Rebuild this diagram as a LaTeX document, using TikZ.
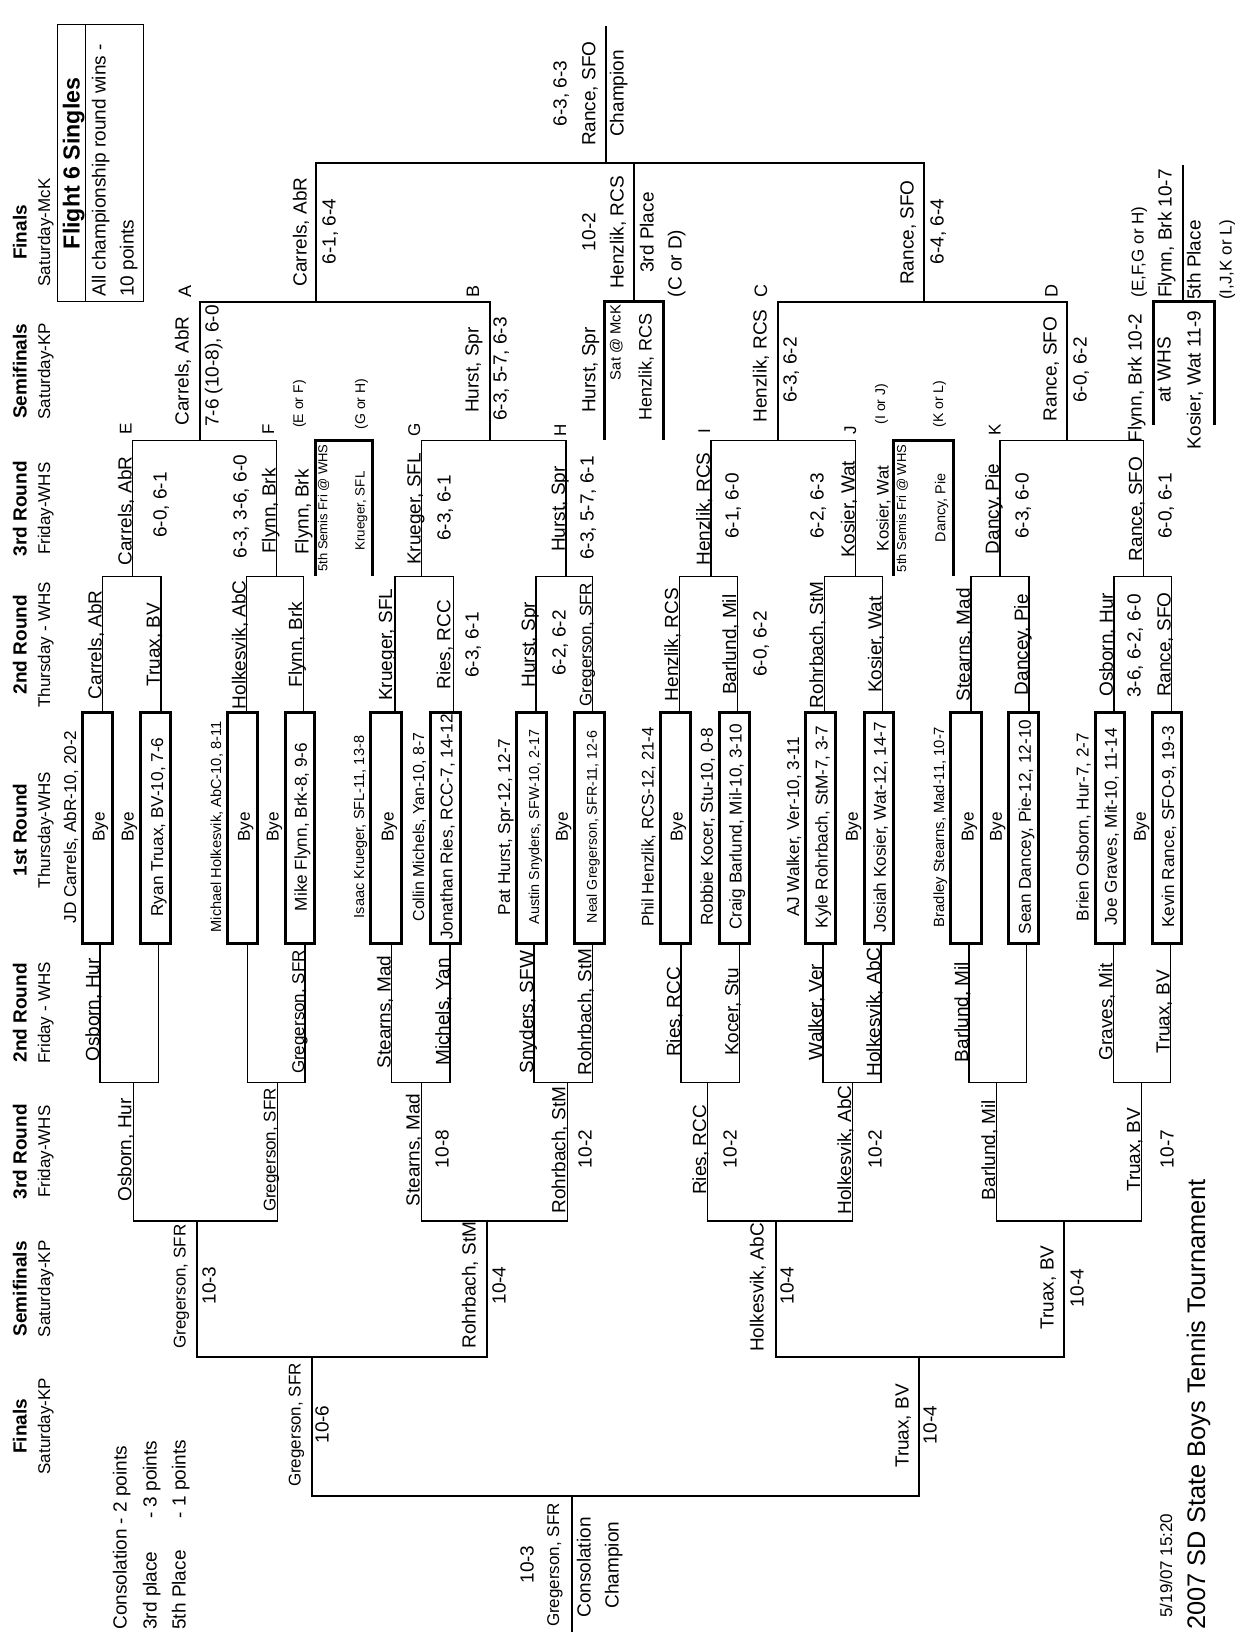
\documentclass[tikz,border=0pt]{standalone}
\usepackage{fontspec}
\setmainfont{Liberation Sans}
\newcommand\fz[1]{\fontsize{#1pt}{#1pt}\selectfont}
\newcounter{tn}
\tikzset{
  ln/.style={line width=0.7pt},
  lnm/.style={line width=1.1pt},
  bx/.style={line width=1.5pt},
  rt/.style={rotate=90, anchor=base, inner sep=0pt, font=\fz{9.5}},
  hb/.style={font=\fz{9.5}\bfseries},
  hs/.style={font=\fz{8.5}},
  f1/.style={font=\fz{8.6}},
  st/.style={anchor=base west},
}
\newcommand\tx[4][]{\stepcounter{tn}\node[rt,#1] (t\thetn) at (#2,#3) {#4};}
\begin{document}
\begin{tikzpicture}[x=0.5pt,y=-0.5pt]
\fill[white] (0,0) rectangle (1241,1632);
\useasboundingbox (0,0) rectangle (1241,1632);

% ---------- headers ----------
\tx[hb]{26.6}{232.5}{Finals}      \tx[hs]{50.2}{232.5}{Saturday-McK}
\tx[hb]{26.6}{371.2}{Semifinals}  \tx[hs]{50.2}{371.2}{Saturday-KP}
\tx[hb]{26.6}{508.7}{3rd Round}   \tx[hs]{50.2}{508.7}{Friday-WHS}
\tx[hb]{26.6}{644.7}{2nd Round}   \tx[hs]{50.2}{644.7}{Thursday - WHS}
\tx[hb]{26.6}{830}{1st Round}     \tx[hs]{50.2}{830}{Thursday-WHS}
\tx[hb]{26.6}{1012.8}{2nd Round}  \tx[hs]{50.2}{1012.8}{Friday - WHS}
\tx[hb]{26.6}{1151.7}{3rd Round}  \tx[hs]{50.2}{1151.7}{Friday-WHS}
\tx[hb]{26.6}{1288.8}{Semifinals} \tx[hs]{50.2}{1288.8}{Saturday-KP}
\tx[hb]{26.6}{1426.2}{Finals}     \tx[hs]{50.2}{1426.2}{Saturday-KP}

% ---------- title box ----------
\draw[line width=0.5pt] (57.3,25) rectangle (143.3,301.7);
\draw[line width=0.5pt] (85.7,25) -- (85.7,301.7);
\tx[font=\fz{11.6}\bfseries]{79.6}{163.4}{Flight 6 Singles}
\tx[st]{105.7}{297}{All championship round wins -}
\tx[st]{133.7}{297}{10 points}

% ---------- first round boxes ----------
\foreach \l/\r in {82.7/112,140/170.7,227.7/257.3,285/314.3,370.7/401,430.7/460,516.7/546.7,574.3/604.3,660/690,719.3/749,805.7/835,864.3/893.3,950.7/981,1008.3/1038.3,1095/1124.3,1152.3/1181.7}
  \draw[bx] (\l,712.7) rectangle (\r,943.3);

\tx[f1]{76.2}{827}{JD Carrels, AbR-10, 20-2}
\tx[f1]{104.5}{827}{Bye}
\tx[f1]{133.5}{827}{Bye}
\tx[f1]{163.2}{827}{Ryan Truax, BV-10, 7-6}
\tx[font=\fz{7.3}]{221.2}{827}{Michael Holkesvik, AbC-10, 8-11}
\tx[f1]{249.8}{827}{Bye}
\tx[f1]{278.5}{827}{Bye}
\tx[f1]{306.8}{827}{Mike Flynn, Brk-8, 9-6}
\tx[font=\fz{7.3}]{364.2}{827}{Isaac Krueger, SFL-11, 13-8}
\tx[f1]{393.5}{827}{Bye}
\tx[font=\fz{7.95}]{424.2}{827}{Collin Michels, Yan-10, 8-7}
\tx[f1]{452.5}{827}{Jonathan Ries, RCC-7, 14-12}
\tx[f1]{510.2}{827}{Pat Hurst, Spr-12, 12-7}
\tx[font=\fz{7.2}]{539.2}{827}{Austin Snyders, SFW-10, 2-17}
\tx[f1]{567.8}{827}{Bye}
\tx[font=\fz{7.1}]{596.8}{827}{Neal Gregerson, SFR-11, 12-6}
\tx[font=\fz{8.4}]{653.5}{827}{Phil Henzlik, RCS-12, 21-4}
\tx[f1]{682.5}{827}{Bye}
\tx[f1]{712.8}{827}{Robbie Kocer, Stu-10, 0-8}
\tx[f1]{741.5}{827}{Craig Barlund, Mil-10, 3-10}
\tx[f1]{799.2}{827}{AJ Walker, Ver-10, 3-11}
\tx[f1]{827.5}{827}{Kyle Rohrbach, StM-7, 3-7}
\tx[f1]{857.8}{827}{Bye}
\tx[f1]{885.8}{827}{Josiah Kosier, Wat-12, 14-7}
\tx[font=\fz{7.4}]{944.2}{827}{Bradley Stearns, Mad-11, 10-7}
\tx[f1]{973.5}{827}{Bye}
\tx[f1]{1001.8}{827}{Bye}
\tx[f1]{1030.8}{827}{Sean Dancey, Pie-12, 12-10}
\tx[f1]{1088.5}{827}{Brien Osborn, Hur-7, 2-7}
\tx[f1]{1116.8}{827}{Joe Graves, Mit-10, 11-14}
\tx[f1]{1145.8}{827}{Bye}
\tx[f1]{1174.2}{827}{Kevin Rance, SFO-9, 19-3}

% ---------- championship 2nd round ----------
\foreach \a/\b in {102.7/161,246.7/303.3,395/453.3,536/592.7,679.3/737.3,824.3/882.7,971/1029,1114/1171.7}
  \draw[ln] (\a,712.7) -- (\a,576.7) -- (\b,576.7) -- (\b,712.7);
\tx{101.5}{644.7}{Carrels, AbR}
\tx{159.8}{644.7}{Truax, BV}
\tx{245.5}{644.7}{Holkesvik, AbC}
\tx{302.1}{644.7}{Flynn, Brk}
\tx{392}{644.7}{Krueger, SFL}
\tx{450.3}{644.7}{Ries, RCC}
\tx{534.8}{644.7}{Hurst, Spr}
\tx[font=\fz{8.5}]{591.5}{644.7}{Gregerson, SFR}
\tx{678.1}{644.7}{Henzlik, RCS}
\tx{736.1}{644.7}{Barlund, Mil}
\tx{823.1}{644.7}{Rohrbach, StM}
\tx{881.5}{644.7}{Kosier, Wat}
\tx{969.8}{644.7}{Stearns, Mad}
\tx{1027.8}{644.7}{Dancey, Pie}
\tx{1112.8}{644.7}{Osborn, Hur}
\tx{1170.5}{644.7}{Rance, SFO}
\tx{478.7}{645}{6-3, 6-1}
\tx{565.7}{643}{6-2, 6-2}
\tx{766.7}{644}{6-0, 6-2}
\tx{1140.7}{646}{3-6, 6-2, 6-0}

% ---------- championship 3rd round ----------
\foreach \a/\b in {132.7/276.7,421.7/566,711/855.7,1000/1143.3}
  \draw[ln] (\a,576.7) -- (\a,440.7) -- (\b,440.7) -- (\b,576.7);
\tx{131.5}{511}{Carrels, AbR}
\tx{275.5}{511}{Flynn, Brk}
\tx{420.5}{509}{Krueger, SFL}
\tx{564.8}{509}{Hurst, Spr}
\tx{709.8}{509}{Henzlik, RCS}
\tx{854.5}{509}{Kosier, Wat}
\tx{998.8}{509}{Dancy, Pie}
\tx{1142.1}{509}{Rance, SFO}
\tx{166.7}{505}{6-0, 6-1}
\tx{246.7}{506.7}{6-3, 3-6, 6-0}
\tx{450.7}{508}{6-3, 6-1}
\tx{593.7}{508}{6-3, 5-7, 6-1}
\tx{738.7}{506}{6-1, 6-0}
\tx{823.7}{506}{6-2, 6-3}
\tx{1028.7}{506}{6-3, 6-0}
\tx{1171.7}{506}{6-0, 6-1}
\tx[font=\fz{8.5}]{131.7}{429}{E}
\tx[font=\fz{8.5}]{274}{429}{F}
\tx[font=\fz{8.5}]{420}{430}{G}
\tx[font=\fz{8.5}]{566}{430}{H}
\tx[font=\fz{8.5}]{710}{431}{I}
\tx[font=\fz{8.5}]{856}{430}{J}
\tx[font=\fz{8.5}]{1000.7}{430}{K}

% ---------- 5th place semis boxes ----------
\draw[bx] (315,575.7) -- (315,440.7) -- (372.3,440.7) -- (372.3,575.7);
\draw[bx] (893.3,575.7) -- (893.3,440.7) -- (953.3,440.7) -- (953.3,575.7);
\tx[font=\fz{7}]{303}{404}{(E or F)}
\tx[font=\fz{7}]{365}{404}{(G or H)}
\tx{308.6}{512}{Flynn, Brk}
\tx[font=\fz{6.5}]{327.3}{508}{5th Semis Fri @ WHS}
\tx[font=\fz{6.7}]{364.6}{511}{Krueger, SFL}
\tx[font=\fz{7}]{885}{404}{(I or J)}
\tx[font=\fz{7}]{943}{404}{(K or L)}
\tx[font=\fz{8.4}]{888.7}{508.5}{Kosier, Wat}
\tx[font=\fz{6.5}]{906}{508.5}{5th Semis Fri @ WHS}
\tx[font=\fz{7.2}]{945.3}{508}{Dancy, Pie}

% ---------- championship semis ----------
\draw[lnm] (200,440.7) -- (200,301.7) -- (490,301.7) -- (490,440.7);
\draw[lnm] (778.3,440.7) -- (778.3,301.7) -- (1067.3,301.7) -- (1067.3,440.7);
\tx{188.7}{371}{Carrels, AbR}
\tx{218.7}{366}{7-6 (10-8), 6-0}
\tx{478.7}{370}{Hurst, Spr}
\tx{506.7}{369}{6-3, 5-7, 6-3}
\tx{766.7}{366}{Henzlik, RCS}
\tx{796.7}{370}{6-3, 6-2}
\tx{1056.7}{369}{Rance, SFO}
\tx{1086.7}{370}{6-0, 6-2}
\tx[font=\fz{9}]{191}{291}{A}
\tx[font=\fz{9}]{479}{291}{B}
\tx[font=\fz{9}]{767}{291}{C}
\tx[font=\fz{9}]{1057.5}{291}{D}

% ---------- championship finals ----------
\draw[lnm] (316,301.7) -- (316,163.3) -- (924.3,163.3) -- (924.3,301.7);
\draw[lnm] (605.7,163.3) -- (605.7,25.7);
\tx{306.7}{232}{Carrels, AbR}
\tx{335.7}{231.5}{6-1, 6-4}
\tx{913.7}{232.5}{Rance, SFO}
\tx{943.7}{231.5}{6-4, 6-4}
\tx{566.7}{93.5}{6-3, 6-3}
\tx{595.4}{93.7}{Rance, SFO}
\tx{623.7}{93.5}{Champion}

% ---------- 3rd place ----------
\draw[lnm] (634,163.3) -- (634,301.7);
\draw[bx] (604.3,440) -- (604.3,301.7) -- (663.3,301.7) -- (663.3,440);
\tx{595.4}{232}{10-2}
\tx{623.7}{232.5}{Henzlik, RCS}
\tx{653.7}{232.5}{3rd Place}
\tx{681.7}{263.5}{(C or D)}
\tx{595.4}{370}{Hurst, Spr}
\tx[font=\fz{7.4}]{620.6}{342.5}{Sat @ McK}
\tx[font=\fz{9}]{651.7}{366.5}{Henzlik, RCS}

% ---------- 5th place ----------
\draw[lnm] (1182.7,165) -- (1182.7,301.7);
\draw[bx] (1153.3,425) -- (1153.3,301.7) -- (1214.3,301.7) -- (1214.3,425);
\tx[font=\fz{8.5}]{1143.7}{252}{(E,F,G or H)}
\tx{1171.7}{233.5}{Flynn, Brk 10-7}
\tx{1200.7}{260}{5th Place}
\tx[font=\fz{8.5}]{1231.7}{260}{(I,J,K or L)}
\tx{1141.7}{378}{Flynn, Brk 10-2}
\tx{1170.7}{370}{at WHS}
\tx{1200.7}{380}{Kosier, Wat 11-9}

% ---------- consolation 2nd round ----------
\foreach \a/\b in {100/158.3,247.7/305,391.7/450,534/592.3,681/739.3,823/881,969/1026.7,1113.3/1170.7}
  \draw[ln] (\a,943.3) -- (\a,1082.3) -- (\b,1082.3) -- (\b,943.3);
\tx{99}{1010}{Osborn, Hur}
\tx[font=\fz{8.5}]{304}{1012}{Gregerson, SFR}
\tx{390.7}{1012}{Stearns, Mad}
\tx{449}{1012}{Michels, Yan}
\tx{533}{1012}{Snyders, SFW}
\tx{591.3}{1012}{Rohrbach, StM}
\tx{680}{1012}{Ries, RCC}
\tx{738.3}{1012}{Kocer, Stu}
\tx{822}{1012}{Walker, Ver}
\tx{880}{1012}{Holkesvik, AbC}
\tx{968}{1012}{Barlund, Mil}
\tx{1112.3}{1012}{Graves, Mit}
\tx{1169.7}{1012}{Truax, BV}

% ---------- consolation 3rd round ----------
\foreach \a/\b in {133.3/277.7,421.7/567.3,707.7/852.7,996.7/1141.7}
  \draw[ln] (\a,1082.3) -- (\a,1221) -- (\b,1221) -- (\b,1082.3);
\tx{131.3}{1150}{Osborn, Hur}
\tx[font=\fz{8.5}]{275.7}{1150}{Gregerson, SFR}
\tx{419.7}{1150}{Stearns, Mad}
\tx{448.7}{1149}{10-8}
\tx{565.3}{1150}{Rohrbach, StM}
\tx{591.7}{1149}{10-2}
\tx{706.2}{1150}{Ries, RCC}
\tx{736.7}{1149}{10-2}
\tx{851.2}{1150}{Holkesvik, AbC}
\tx{881.7}{1149}{10-2}
\tx{995.2}{1150}{Barlund, Mil}
\tx{1140.2}{1150}{Truax, BV}
\tx{1173.7}{1149}{10-7}

% ---------- consolation semis ----------
\draw[lnm] (196.7,1221) -- (196.7,1356.7) -- (487.3,1356.7) -- (487.3,1221);
\draw[lnm] (775.7,1221) -- (775.7,1356.7) -- (1064,1356.7) -- (1064,1221);
\tx[font=\fz{8.5}]{185.7}{1286.5}{Gregerson, SFR}
\tx{215.7}{1285.5}{10-3}
\tx{475.7}{1285}{Rohrbach, StM}
\tx{505.7}{1285.5}{10-4}
\tx{763.7}{1287.5}{Holkesvik, AbC}
\tx{793.7}{1285.5}{10-4}
\tx{1053.7}{1287.5}{Truax, BV}
\tx{1083.7}{1288}{10-4}

% ---------- consolation finals ----------
\draw[lnm] (311.7,1356.7) -- (311.7,1495.7) -- (919.3,1495.7) -- (919.3,1356.7);
\draw[lnm] (572.3,1495.7) -- (572.3,1632);
\tx[font=\fz{8.5}]{300.7}{1425}{Gregerson, SFR}
\tx{328.7}{1424.5}{10-6}
\tx{908.7}{1426}{Truax, BV}
\tx{936.7}{1425}{10-4}
\tx{533.7}{1564.5}{10-3}
\tx[font=\fz{8.5}]{559.2}{1565}{Gregerson, SFR}
\tx{590.6}{1567.5}{Consolation}
\tx{618.6}{1565}{Champion}

% ---------- footer ----------
\tx[st]{126.6}{1630}{Consolation - 2 points}
\tx[st]{156.6}{1630}{3rd place\hspace{16.3pt}- 3 points}
\tx[st]{185.6}{1630}{5th Place\hspace{16.2pt}- 1 points}
\tx[st,font=\fz{8.5}]{1172.2}{1618}{5/19/07 15:20}
\tx[st,font=\fz{12.7}]{1205}{1630}{2007 SD State Boys Tennis Tournament}
\end{tikzpicture}
\end{document}
